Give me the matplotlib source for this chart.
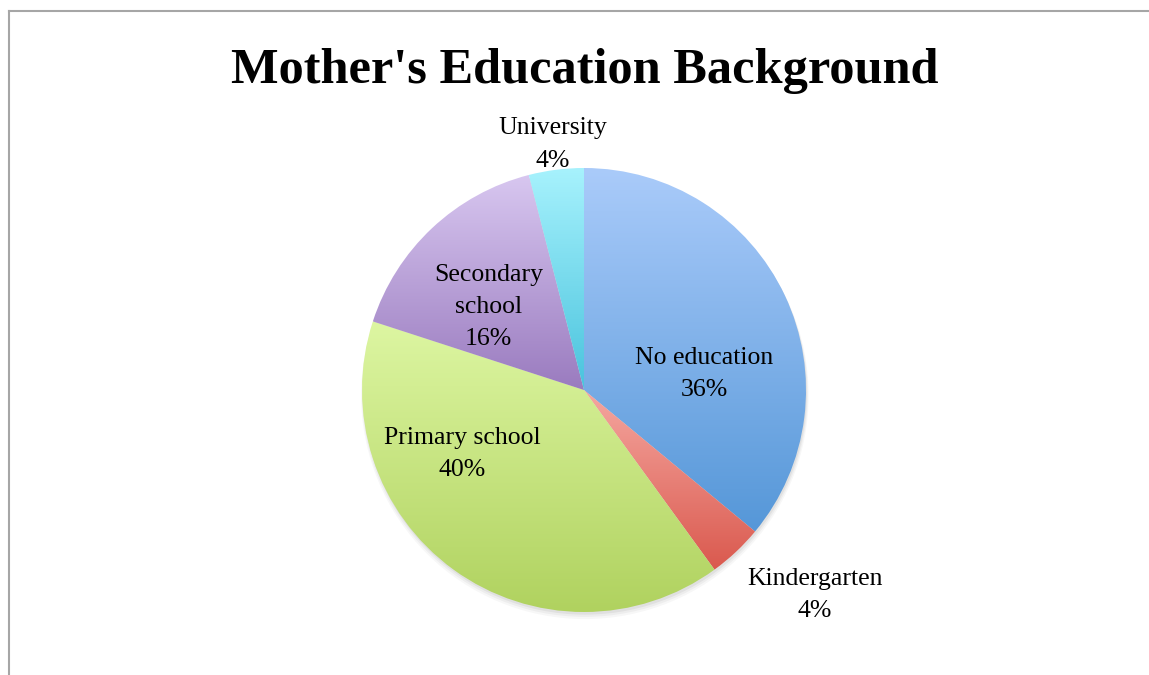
import numpy as np
import matplotlib
matplotlib.use("Agg")
import matplotlib.pyplot as plt
from matplotlib.colors import LinearSegmentedColormap
from matplotlib.lines import Line2D

# ── data ──────────────────────────────────────────────────────────────
categories = ["No education", "Kindergarten", "Primary school",
              "Secondary school", "University"]
shares = [36, 4, 40, 16, 4]
label_text = ["No education", "Kindergarten", "Primary school",
              "Secondary\nschool", "University"]

# top / bottom colour of each wedge's vertical gradient
top_colors = ["#aacbfa", "#f5a7a0", "#ddf6a2", "#d8c7f0", "#a7f2fd"]
bottom_colors = ["#5597d8", "#da594e", "#b0d25f", "#9a7bbf", "#49c3dd"]

# label anchor points, in units of the pie radius
label_xy = [(0.54, 0.072), (1.04, -0.925), (-0.55, -0.29),
            (-0.43, 0.373), (-0.14, 1.106)]

SERIF = ["Liberation Serif", "DejaVu Serif"]

W, H = 1149, 675
CX, CY, R = 584, 390, 222   # pie centre and radius in pixels

fig = plt.figure(figsize=(W / 100, H / 100), dpi=100)
ax = fig.add_axes([0, 0, 1, 1])

# soft drop shadow under the pie
for i, a in enumerate([0.05, 0.04, 0.03]):
    sh = plt.Circle((0.004, -0.012 - 0.006 * i), 1.0 + 0.004 * i,
                    color="black", alpha=a, lw=0, zorder=0)
    ax.add_patch(sh)

wedges, _ = ax.pie(shares, startangle=90, counterclock=False, radius=1.0,
                   center=(0, 0), frame=True,
                   wedgeprops=dict(linewidth=0))
ax.set_xlim(-CX / R, (W - CX) / R)
ax.set_ylim(-(H - CY) / R, CY / R)
ax.set_aspect("auto")
ax.axis("off")

# fill every wedge with its own top-to-bottom gradient
grad = np.linspace(0, 1, 256).reshape(-1, 1)
for w, c_top, c_bot in zip(wedges, top_colors, bottom_colors):
    w.set_facecolor("none")
    bb = w.get_path().get_extents()
    cmap = LinearSegmentedColormap.from_list("g", [c_bot, c_top])
    im = ax.imshow(grad, cmap=cmap, aspect="auto", origin="lower",
                   extent=(bb.x0, bb.x1, bb.y0, bb.y1), zorder=1,
                   interpolation="bicubic")
    im.set_clip_path(w)

for txt, v, (x, y) in zip(label_text, shares, label_xy):
    ax.text(x, y, f"{txt}\n{v}%", ha="center", va="center",
            fontsize=18.5, family=SERIF, color="black",
            linespacing=1.6, zorder=3)

fig.text(585 / W, 1 - 71 / H, "Mother's Education Background",
         ha="center", va="center", fontsize=36.3, fontweight="bold",
         family=SERIF)

# chart-area frame (top and left edges)
fig.add_artist(Line2D([9 / W, 1], [1 - 10.5 / H] * 2, color="#a6a6a6",
                      lw=1.5, transform=fig.transFigure))
fig.add_artist(Line2D([9 / W] * 2, [0, 1 - 10.5 / H], color="#a6a6a6",
                      lw=1.5, transform=fig.transFigure))

fig.savefig("out.png", dpi=100)
